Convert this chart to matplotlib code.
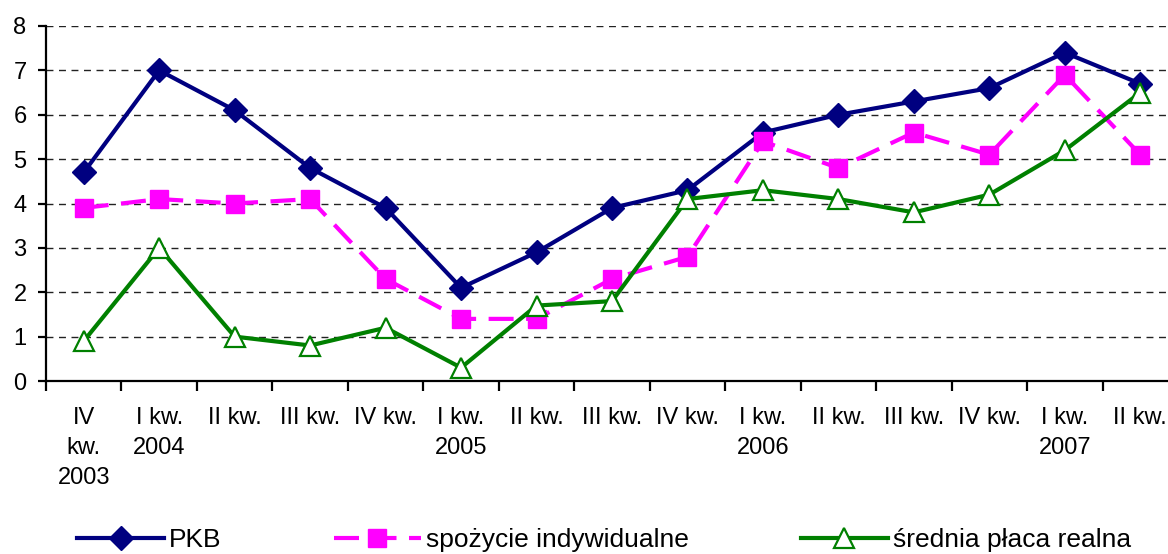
import numpy as np
import matplotlib.pyplot as plt

plt.rcParams['font.family'] = ['Liberation Sans', 'DejaVu Sans']

# Quarter labels
quarters = ["IV\nkw.\n2003", "I kw.\n2004", "II kw.", "III kw.", "IV kw.",
            "I kw.\n2005", "II kw.", "III kw.", "IV kw.",
            "I kw.\n2006", "II kw.", "III kw.", "IV kw.",
            "I kw.\n2007", "II kw."]

# Series values
pkb = [4.7, 7.0, 6.1, 4.8, 3.9, 2.1, 2.9, 3.9, 4.3, 5.6, 6.0, 6.3, 6.6, 7.4, 6.7]
spozycie = [3.9, 4.1, 4.0, 4.1, 2.3, 1.4, 1.4, 2.3, 2.8, 5.4, 4.8, 5.6, 5.1, 6.9, 5.1]
placa = [0.9, 3.0, 1.0, 0.8, 1.2, 0.3, 1.7, 1.8, 4.1, 4.3, 4.1, 3.8, 4.2, 5.2, 6.5]

x = np.arange(len(quarters))

fig = plt.figure(figsize=(11.68, 5.54), dpi=100)
ax = fig.add_axes([46 / 1168, 1 - 381 / 554, 1132 / 1168, 355 / 554])

ax.plot(x, pkb, color='#000080', lw=3, marker='D', ms=12,
        label='PKB', zorder=3)
ax.plot(x, spozycie, color='#FF00FF', lw=3, marker='s', ms=13,
        dashes=(6, 3), label='spożycie indywidualne', zorder=3)
ax.plot(x, placa, color='#008000', lw=3, marker='^', ms=14,
        markerfacecolor='white', markeredgewidth=1.6,
        label='średnia płaca realna', zorder=4)

ax.set_xlim(-0.5, len(quarters) - 0.5)
ax.set_ylim(0, 8)
ax.set_yticks(range(0, 9))
ax.tick_params(axis='y', labelsize=17, length=6, width=1.6,
               direction='out', pad=8)

ax.set_xticks(x)
ax.set_xticklabels(quarters, fontsize=17, linespacing=1.45, va='top')
ax.tick_params(axis='x', which='major', length=0, pad=19)
ax.set_xticks(np.arange(-0.5, len(quarters)), minor=True)
ax.tick_params(axis='x', which='minor', length=7, width=1.6, direction='out')

ax.grid(axis='y', linestyle=(0, (5, 4)), color='#222222', lw=1)
ax.set_axisbelow(True)
for s in ['top', 'right']:
    ax.spines[s].set_visible(False)
for s in ['left', 'bottom']:
    ax.spines[s].set_linewidth(1.6)

fig.legend(loc='center left', bbox_to_anchor=(77 / 1168, 14 / 554), ncol=3,
           frameon=False, fontsize=19, handlelength=3.3, columnspacing=4.25,
           handletextpad=0.19, borderpad=0, borderaxespad=0)

plt.savefig('out.png', dpi=100)
